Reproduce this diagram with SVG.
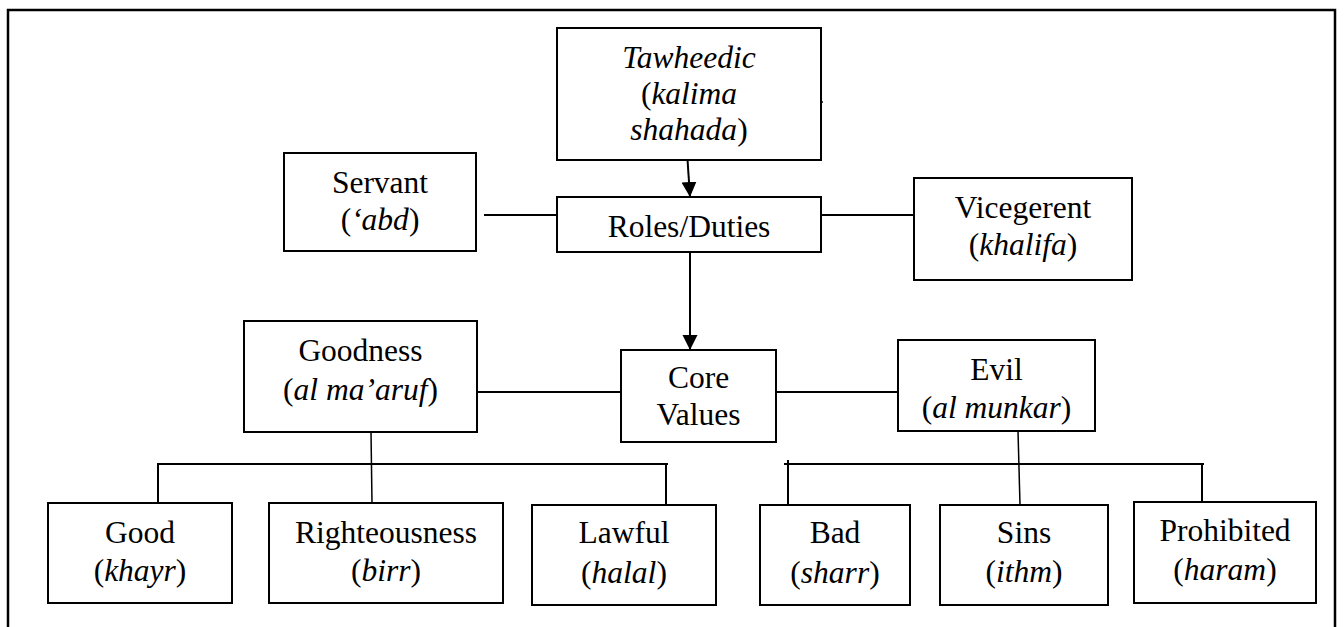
<svg xmlns="http://www.w3.org/2000/svg" width="1344" height="627" viewBox="0 0 1344 627">
<style>
.box{fill:#fff;stroke:#000;stroke-width:2}
.ln{fill:none;stroke:#000;stroke-width:2}
.thin{fill:none;stroke:#000;stroke-width:1.5}
text{font-size:31.5px;fill:#000;text-anchor:middle}
.i{font-style:italic}
</style>
<defs>
<marker id="ah" markerUnits="userSpaceOnUse" markerWidth="16" markerHeight="16" refX="15" refY="7.5" orient="auto">
<path d="M0,0 L15,7.5 L0,15 z" fill="#000"/>
</marker>
</defs>
<rect width="1344" height="627" fill="#fff"/>
<path d="M8,640 V10 H1335 V640" fill="none" stroke="#000" stroke-width="2.5"/>
<g id="connectors">
<line class="ln" x1="687" y1="152" x2="690" y2="197" marker-end="url(#ah)"/>
<line class="ln" x1="690" y1="252" x2="690" y2="350" marker-end="url(#ah)"/>
<line class="ln" x1="484" y1="215" x2="557" y2="215"/>
<line class="ln" x1="821" y1="215" x2="914" y2="215"/>
<line class="ln" x1="477" y1="392" x2="621" y2="392"/>
<line class="ln" x1="776" y1="392" x2="898" y2="392"/>
<line class="thin" x1="371" y1="432" x2="372" y2="503"/>
<path class="ln" d="M158,505 V464 H668 M666,464 V505"/>
<line class="thin" x1="1018" y1="431" x2="1020" y2="505"/>
<path class="ln" d="M784,464 H1204 M788,460 V505 M1202,464 V506"/>
<line class="thin" x1="821" y1="102" x2="823" y2="102"/>
</g>
<g font-family="Liberation Serif, Times New Roman, DejaVu Serif, serif">
<g id="tawheedic">
<rect class="box" x="557" y="28" width="264" height="132"/>
<text x="689" y="68" class="i">Tawheedic</text>
<text x="689" y="104">(<tspan class="i">kalima</tspan></text>
<text x="689" y="140"><tspan class="i">shahada</tspan>)</text>
</g>
<g id="servant">
<rect class="box" x="284" y="153" width="192" height="98"/>
<text x="380" y="193">Servant</text>
<text x="380" y="230">(<tspan class="i">‘abd</tspan>)</text>
</g>
<g id="roles">
<rect class="box" x="557" y="197" width="264" height="55"/>
<text x="689" y="237">Roles/Duties</text>
</g>
<g id="vicegerent">
<rect class="box" x="914" y="178" width="218" height="102"/>
<text x="1023" y="218">Vicegerent</text>
<text x="1023" y="255">(<tspan class="i">khalifa</tspan>)</text>
</g>
<g id="goodness">
<rect class="box" x="244" y="321" width="233" height="111"/>
<text x="360.5" y="361">Goodness</text>
<text x="360.5" y="400">(<tspan class="i">al ma’aruf</tspan>)</text>
</g>
<g id="core">
<rect class="box" x="621" y="350" width="155" height="92"/>
<text x="698.5" y="388">Core</text>
<text x="698.5" y="425">Values</text>
</g>
<g id="evil">
<rect class="box" x="898" y="340" width="197" height="91"/>
<text x="996.5" y="380">Evil</text>
<text x="996.5" y="418">(<tspan class="i">al munkar</tspan>)</text>
</g>
<g id="good">
<rect class="box" x="48" y="503" width="184" height="100"/>
<text x="140" y="543">Good</text>
<text x="140" y="581">(<tspan class="i">khayr</tspan>)</text>
</g>
<g id="righteousness">
<rect class="box" x="269" y="503" width="234" height="100"/>
<text x="386" y="543">Righteousness</text>
<text x="386" y="581">(<tspan class="i">birr</tspan>)</text>
</g>
<g id="lawful">
<rect class="box" x="532" y="505" width="184" height="100"/>
<text x="624" y="543">Lawful</text>
<text x="624" y="583">(<tspan class="i">halal</tspan>)</text>
</g>
<g id="bad">
<rect class="box" x="760" y="505" width="150" height="100"/>
<text x="835" y="543">Bad</text>
<text x="835" y="583">(<tspan class="i">sharr</tspan>)</text>
</g>
<g id="sins">
<rect class="box" x="940" y="505" width="168" height="100"/>
<text x="1024" y="543">Sins</text>
<text x="1024" y="582">(<tspan class="i">ithm</tspan>)</text>
</g>
<g id="prohibited">
<rect class="box" x="1134" y="502" width="182" height="101"/>
<text x="1225" y="541">Prohibited</text>
<text x="1225" y="580">(<tspan class="i">haram</tspan>)</text>
</g>
</g>
</svg>
